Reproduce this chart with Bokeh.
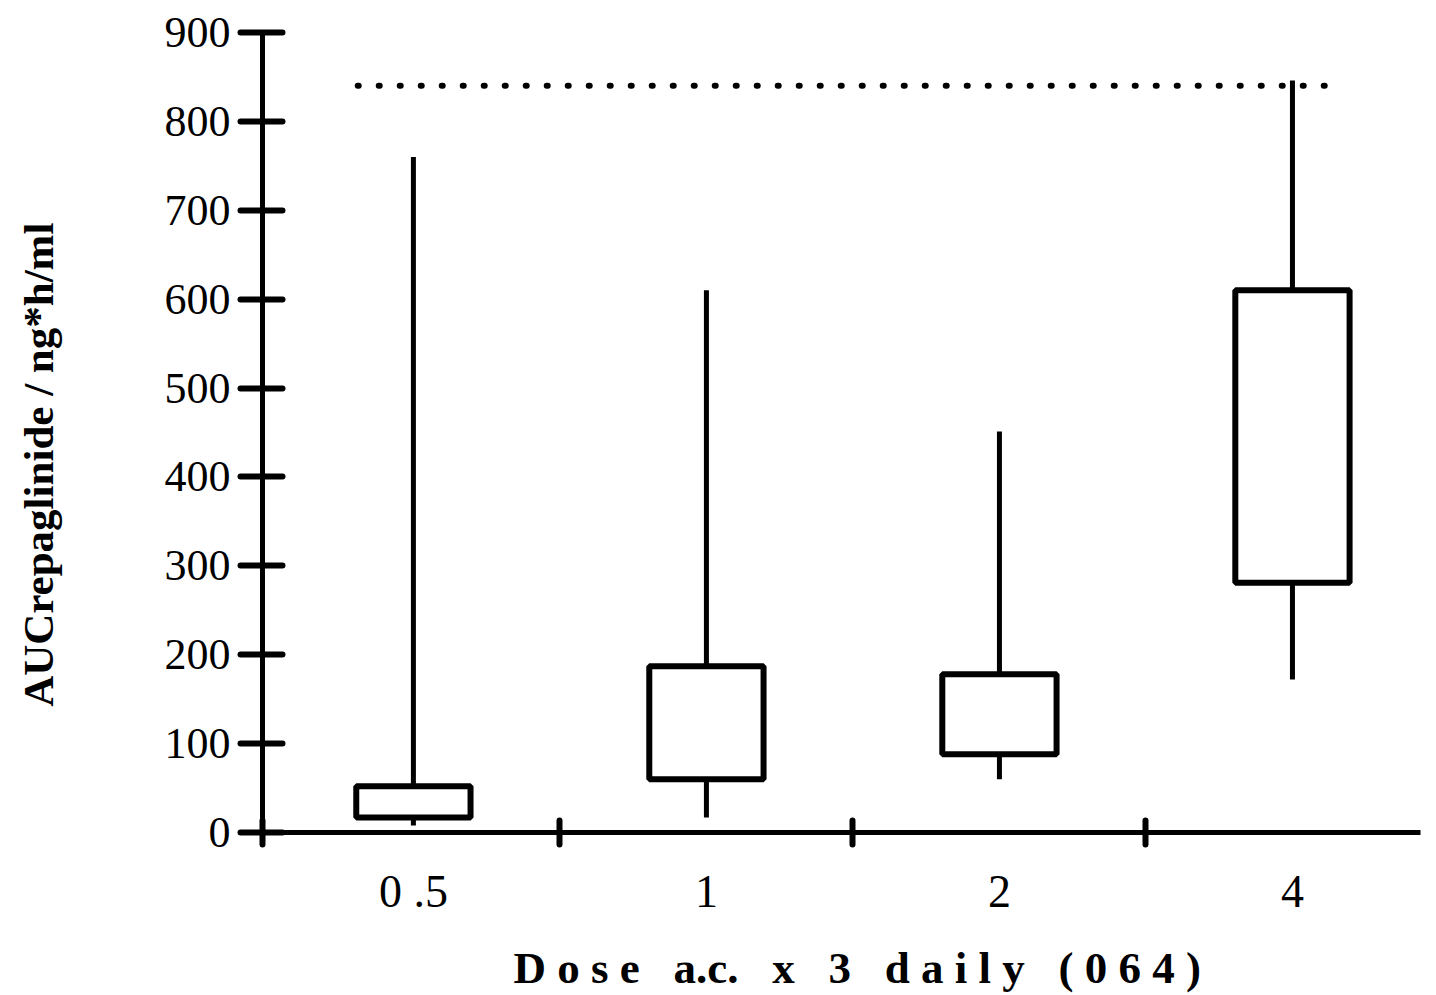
from bokeh.plotting import figure
from bokeh.models import Range1d, FixedTicker, ColumnDataSource
from bokeh.embed import file_html
from bokeh.resources import INLINE

# ---- data ----
dose_labels = ["0 .5", "1", "2", "4"]
dose_pos = [1, 2, 3, 4]
whisker_low = [8, 17, 60, 172]
q1 = [17, 60, 88, 281]
q3 = [52, 187, 178, 610]
whisker_high = [760, 610, 451, 846]
ref_level = 840
ref_start, ref_end = 0.81, 4.14
y_ticks = [0, 100, 200, 300, 400, 500, 600, 700, 800, 900]
separators = [0.485, 1.5, 2.5, 3.5]
x_title = "D o s e \u2002a.c. \u2002x \u20023 \u2002d a i l y \u2002( 0 6 4 )"
y_title = "AUCrepaglinide / ng*h/ml"

box_w = 0.39
src = ColumnDataSource(dict(
    x=dose_pos,
    left=[p - box_w / 2 for p in dose_pos],
    right=[p + box_w / 2 for p in dose_pos],
    lo=whisker_low, q1=q1, q3=q3, hi=whisker_high,
))

p = figure(width=1436, height=995, output_backend="svg", toolbar_location=None,
           x_range=Range1d(0.485, 4.437), y_range=Range1d(0, 900),
           min_border_left=262, min_border_right=16, min_border_top=32,
           min_border_bottom=162)
p.outline_line_color = None
p.xgrid.visible = False
p.ygrid.visible = False
p.background_fill_color = "white"

# whiskers
p.segment(x0="x", y0="lo", x1="x", y1="q1", source=src, line_color="black", line_width=5)
p.segment(x0="x", y0="q3", x1="x", y1="hi", source=src, line_color="black", line_width=5)
# boxes
p.quad(left="left", right="right", bottom="q1", top="q3", source=src,
       fill_color="white", line_color="black", line_width=6)
# dotted reference line
p.line(x=[ref_start, ref_end], y=[ref_level, ref_level], line_color="black",
       line_width=6, line_dash="1 20", line_cap="round")

serif = "Liberation Serif"

# y axis
ya = p.yaxis[0]
ya.ticker = FixedTicker(ticks=y_ticks, minor_ticks=[])
ya.axis_line_width = 5
ya.major_tick_line_width = 6
ya.major_tick_line_cap = "round"
ya.major_tick_in = 20
ya.major_tick_out = 22
ya.minor_tick_line_color = None
ya.major_label_text_font = serif
ya.major_label_text_font_size = "44px"
ya.major_label_text_color = "black"
ya.major_label_standoff = 10
ya.axis_label = y_title + "\u2003\u2002"
ya.axis_label_text_font = serif
ya.axis_label_text_font_style = "bold"
ya.axis_label_text_font_size = "43px"
ya.axis_label_text_color = "black"
ya.axis_label_standoff = 100

# x axis
xa = p.xaxis[0]
xa.ticker = FixedTicker(ticks=dose_pos, minor_ticks=separators)
xa.major_label_overrides = {pos: lab for pos, lab in zip(dose_pos, dose_labels)}
xa.axis_line_width = 5
xa.major_tick_line_color = None
xa.major_tick_in = 0
xa.major_tick_out = 0
xa.minor_tick_line_width = 6
xa.minor_tick_line_cap = "round"
xa.minor_tick_in = 12
xa.minor_tick_out = 12
xa.major_label_text_font = serif
xa.major_label_text_font_size = "46px"
xa.major_label_text_color = "black"
xa.major_label_standoff = 21
xa.axis_label = "\u2002\u2009" + x_title
xa.axis_label_text_font = serif
xa.axis_label_text_font_style = "bold"
xa.axis_label_text_font_size = "45px"
xa.axis_label_text_color = "black"
xa.axis_label_standoff = 23

open("out.html", "w").write(file_html(p, INLINE))
